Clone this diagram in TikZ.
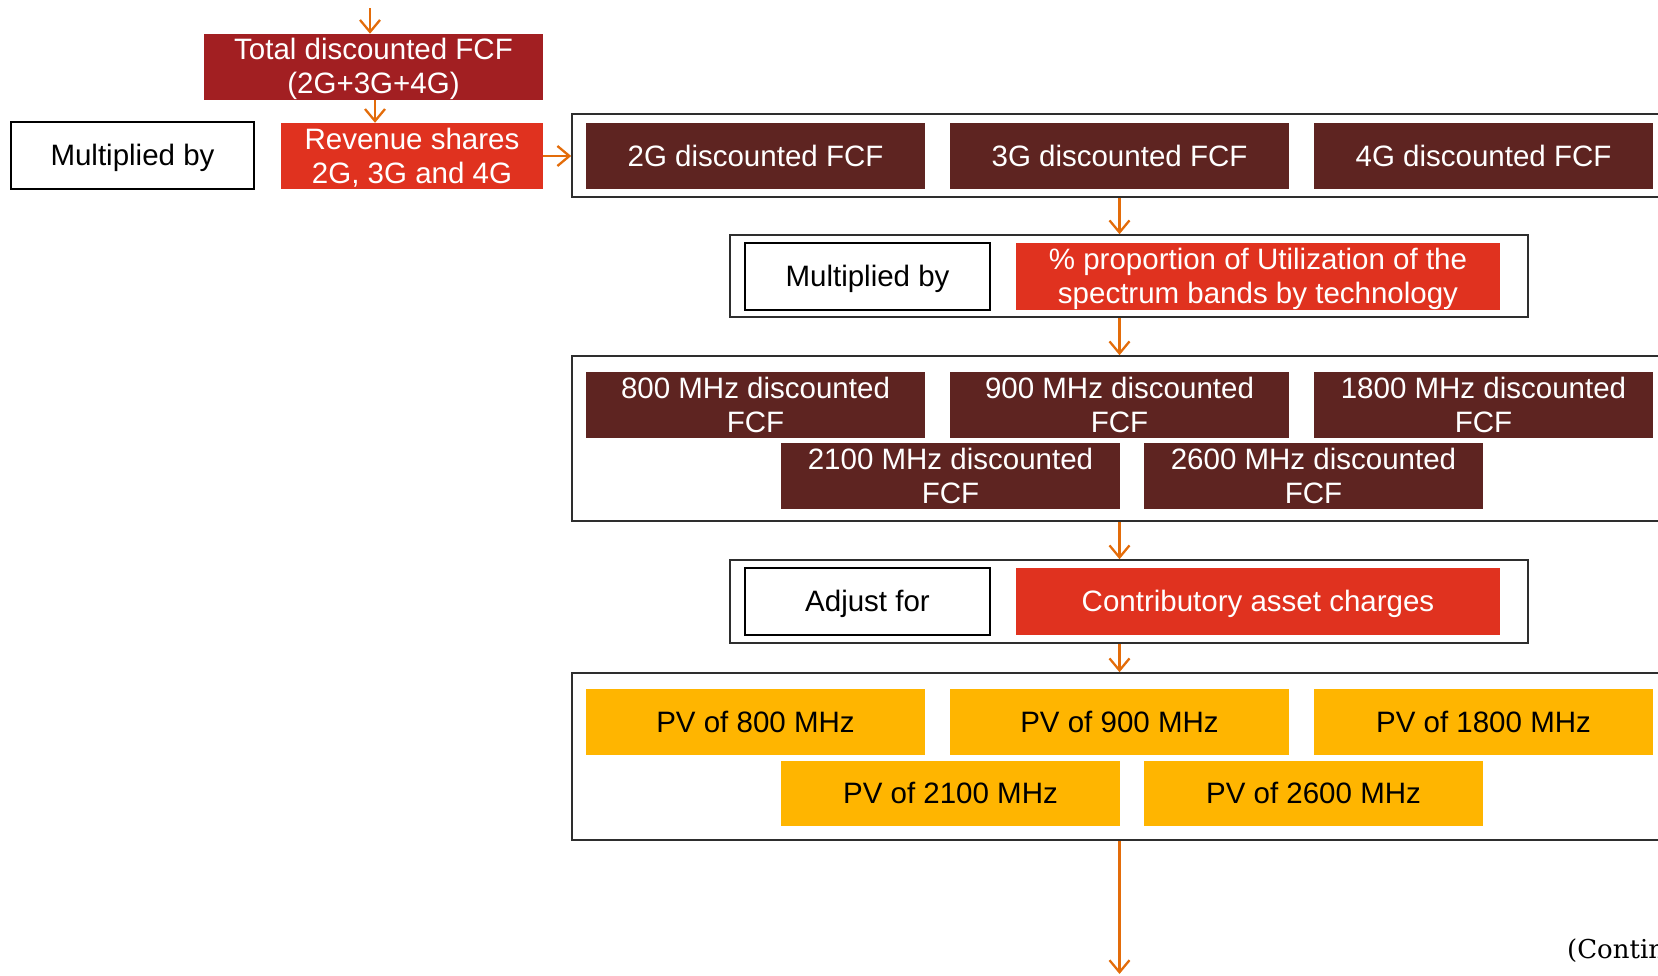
\documentclass[tikz,border=0pt]{standalone}
\usepackage{fontspec}
\setmainfont{Liberation Sans}
\newfontfamily\notefont{DejaVu Serif}
\usetikzlibrary{arrows.meta}

\definecolor{totred}{HTML}{A21F22}
\definecolor{brightred}{HTML}{E0321F}
\definecolor{fcfbrown}{HTML}{5E2421}
\definecolor{amber}{HTML}{FFB500}
\definecolor{arrorange}{HTML}{E36C0A}
\definecolor{framegray}{HTML}{2E2E2E}

% uniform line box: every text line gets the same height and depth
\newcommand\lnstrut{\rule[-5.2pt]{0pt}{31.2pt}}

\tikzset{
  box/.style={rectangle, inner sep=0pt, align=center,
    font=\fontsize{29.5}{34}\selectfont},
  totbox/.style={box, fill=totred, text=white},
  redbox/.style={box, fill=brightred, text=white},
  brownbox/.style={box, fill=fcfbrown, text=white},
  pvbox/.style={box, fill=amber, text=black},
  plainbox/.style={box, draw=black, line width=1.5pt, fill=white, text=black},
  frame/.style={rectangle, draw=framegray, line width=1.6pt, inner sep=0pt},
  flow/.style={draw=arrorange, line width=2.3pt,
    -{Straight Barb[length=12pt,width=20pt,line width=2.3pt]}},
  colw/.style={minimum width=339pt, minimum height=66pt},
}

\begin{document}
\begin{tikzpicture}[x=1pt, y=-1pt]
\useasboundingbox (0,0) rectangle (1658,975);
\clip (0,0) rectangle (1658,975);

% group frames (open on the right)
\node[frame, minimum width=1130pt, minimum height=83pt]  (out1) at (1137,155.5) {};
\node[frame, minimum width=798pt,  minimum height=82pt]  (mid2) at (1129,276) {};
\node[frame, minimum width=1130pt, minimum height=165pt] (out3) at (1137,438.5) {};
\node[frame, minimum width=798pt,  minimum height=83pt]  (mid4) at (1129,601.5) {};
\node[frame, minimum width=1130pt, minimum height=167pt] (out5) at (1137,756.5) {};

% top part
\node[totbox, minimum width=339pt, minimum height=66pt] (tot) at (373.5,67)
  {\lnstrut Total discounted FCF\\\lnstrut (2G+3G+4G)};
\node[plainbox, minimum width=243pt, minimum height=67pt] (mul1) at (132.5,155.5)
  {\lnstrut Multiplied by};
\node[redbox, minimum width=262pt, minimum height=66pt] (rev) at (412,156)
  {\lnstrut Revenue shares\\\lnstrut 2G, 3G and 4G};

% technology FCF
\node[brownbox, colw] (g2) at (755.5,156)  {\lnstrut 2G discounted FCF};
\node[brownbox, colw] (g3) at (1119.5,156) {\lnstrut 3G discounted FCF};
\node[brownbox, colw] (g4) at (1483.5,156) {\lnstrut 4G discounted FCF};

% utilization step
\node[plainbox, minimum width=245pt, minimum height=67pt] (mul2) at (867.5,276.5)
  {\lnstrut Multiplied by};
\node[redbox, minimum width=484pt, minimum height=67pt] (prop) at (1258,276.5)
  {\lnstrut\% proportion of Utilization of the\\\lnstrut spectrum bands by technology};

% band FCF
\node[brownbox, colw] (b800)  at (755.5,405)  {\lnstrut 800 MHz discounted\\\lnstrut FCF};
\node[brownbox, colw] (b900)  at (1119.5,405) {\lnstrut 900 MHz discounted\\\lnstrut FCF};
\node[brownbox, colw] (b1800) at (1483.5,405) {\lnstrut 1800 MHz discounted\\\lnstrut FCF};
\node[brownbox, colw] (b2100) at (950.5,476)  {\lnstrut 2100 MHz discounted\\\lnstrut FCF};
\node[brownbox, colw] (b2600) at (1313.5,476) {\lnstrut 2600 MHz discounted\\\lnstrut FCF};

% contributory asset step
\node[plainbox, minimum width=245pt, minimum height=67pt] (adj) at (867.5,601.5)
  {\lnstrut Adjust for};
\node[redbox, minimum width=484pt, minimum height=67pt] (cac) at (1258,601.5)
  {\lnstrut Contributory asset charges};

% present values
\node[pvbox, colw] (p800)  at (755.5,722)    {\lnstrut PV of 800 MHz};
\node[pvbox, colw] (p900)  at (1119.5,722)   {\lnstrut PV of 900 MHz};
\node[pvbox, colw] (p1800) at (1483.5,722)   {\lnstrut PV of 1800 MHz};
\node[pvbox, colw, minimum height=65pt] (p2100) at (950.5,793.5)  {\lnstrut PV of 2100 MHz};
\node[pvbox, colw, minimum height=65pt] (p2600) at (1313.5,793.5) {\lnstrut PV of 2600 MHz};

% note
\node[anchor=base west, inner sep=0pt, font=\notefont\fontsize{26}{30}\selectfont] (note)
  at (1567,958) {(Continued)};

% connectors
\coordinate (topin) at (370,8);
\coordinate (tail) at (1119.5,974);
\draw[flow] (topin) -- (topin |- tot.north);
\draw[flow] ([xshift=1.5pt]tot.south) -- ([xshift=1.5pt]tot.south |- rev.north);
\draw[flow] (rev.east) -- (rev.east -| out1.west);
\draw[flow] (out1.south -| g3) -- (mid2.north -| g3);
\draw[flow] (mid2.south -| g3) -- (out3.north -| g3);
\draw[flow] (out3.south -| g3) -- (mid4.north -| g3);
\draw[flow] (mid4.south -| g3) -- (out5.north -| g3);
\draw[flow] (out5.south -| g3) -- (tail);
\end{tikzpicture}
\end{document}
